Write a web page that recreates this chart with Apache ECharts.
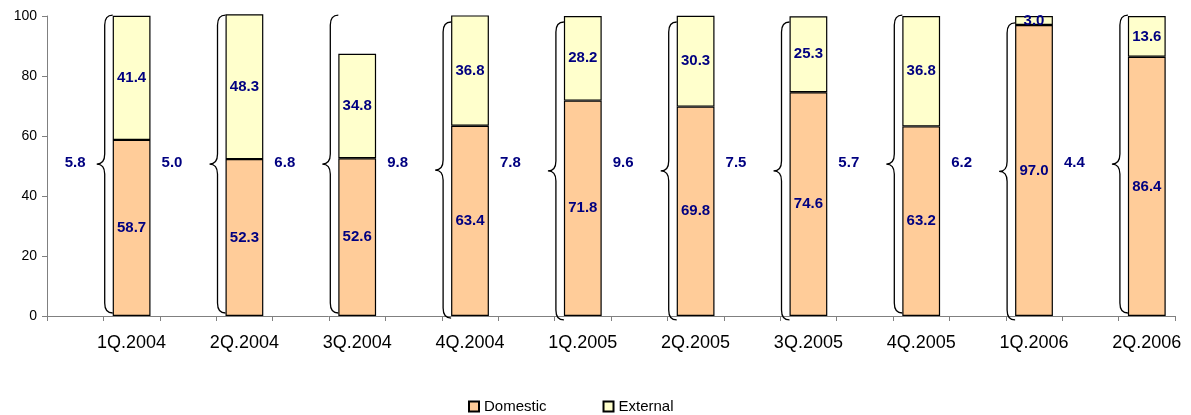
<!DOCTYPE html>
<html>
<head>
<meta charset="utf-8">
<script src="https://cdn.jsdelivr.net/npm/echarts@6/dist/echarts.min.js"></script>
<style>
  html, body { margin: 0; padding: 0; background: #fff; }
  #chart { width: 1191px; height: 415px; }
</style>
</head>
<body>
<div id="chart"></div>
<script>
// Quarterly split of growth contributions (shares, %)
const quarters = ['1Q.2004', '2Q.2004', '3Q.2004', '4Q.2004', '1Q.2005',
                  '2Q.2005', '3Q.2005', '4Q.2005', '1Q.2006', '2Q.2006'];
const domestic = [58.7, 52.3, 52.6, 63.4, 71.8, 69.8, 74.6, 63.2, 97.0, 86.4];
const external = [41.4, 48.3, 34.8, 36.8, 28.2, 30.3, 25.3, 36.8, 3.0, 13.6];
// overall growth rate written beside each bracket
const growth = [5.8, 5.0, 6.8, 9.8, 7.8, 9.6, 7.5, 5.7, 6.2, 4.4];
// vertical extent (axis values) of each curly bracket
const braceFrom = [1.0, 1.0, 1.0, -0.7, -1.3, -1.3, -1.3, 1.0, -1.3, 1.0];
const braceTo = [100.3, 100.3, 100.3, 98.0, 98.0, 98.0, 98.0, 100.3, 97.7, 100.3];
const yTicks = [0, 20, 40, 60, 80, 100];

const FONT = "'Liberation Sans', Arial, sans-serif";
const NAVY = '#000080';

// Each quarter takes two slots on the category axis: a gap slot holding the
// growth label and bracket, then the slot with the stacked bar.
const categories = [];
const domSlots = [];
const extSlots = [];
quarters.forEach((q, i) => {
  categories.push('');
  domSlots.push(null);
  extSlots.push(null);
  categories.push(q);
  domSlots.push(domestic[i]);
  extSlots.push(external[i]);
});
const braceData = quarters.map((q, i) => [2 * i + 1, braceFrom[i], braceTo[i]]);
const growthData = growth.map((g, i) => [2 * i, 51, g]);

const BAR_RATIO = 0.67;

const barLabel = {
  show: true,
  position: 'inside',
  color: NAVY,
  fontWeight: 'bold',
  fontSize: 15,
  fontFamily: FONT,
  textBorderWidth: 0,
  formatter: p => (p.value == null ? '' : Number(p.value).toFixed(1))
};

const chart = echarts.init(document.getElementById('chart'), null, { renderer: 'canvas' });
chart.setOption({
  animation: false,
  backgroundColor: '#fff',
  grid: { left: 47, right: 16, top: 16, bottom: 99, containLabel: false, outerBoundsMode: 'none' },
  legend: {
    data: ['Domestic', 'External'],
    left: 463,
    top: 394,
    icon: 'rect',
    itemWidth: 10,
    itemHeight: 10,
    itemGap: 56,
    textStyle: { fontSize: 15, fontFamily: FONT, color: '#000' }
  },
  xAxis: {
    type: 'category',
    data: categories,
    boundaryGap: true,
    axisLine: { show: true, lineStyle: { color: '#808080', width: 1 } },
    axisTick: { show: true, interval: 0, length: 5, lineStyle: { color: '#808080' } },
    axisLabel: { interval: 0, fontSize: 18, fontFamily: FONT, color: '#000', margin: 18 },
    splitLine: { show: false }
  },
  yAxis: {
    type: 'value',
    min: yTicks[0],
    max: yTicks[yTicks.length - 1],
    interval: yTicks[1] - yTicks[0],
    axisLine: { show: true, lineStyle: { color: '#808080', width: 1 } },
    axisTick: { show: true, length: 5, lineStyle: { color: '#808080' } },
    axisLabel: { fontSize: 14, fontFamily: FONT, color: '#000', margin: 10 },
    splitLine: { show: false }
  },
  series: [
    {
      name: 'Domestic',
      type: 'bar',
      stack: 'share',
      barWidth: (BAR_RATIO * 100) + '%',
      clip: false,
      data: domSlots,
      itemStyle: { color: '#FFCC99', borderColor: '#000', borderWidth: 1.2 },
      label: barLabel
    },
    {
      name: 'External',
      type: 'bar',
      stack: 'share',
      barWidth: (BAR_RATIO * 100) + '%',
      clip: false,
      data: extSlots,
      itemStyle: { color: '#FFFFCC', borderColor: '#000', borderWidth: 1.2 },
      label: barLabel
    },
    {
      // curly bracket on the left side of every bar
      type: 'custom',
      clip: false,
      encode: { x: 0, y: [1, 2] },
      data: braceData,
      renderItem: (params, api) => {
        const idx = api.value(0);
        const low = api.coord([idx, api.value(1)]);
        const high = api.coord([idx, api.value(2)]);
        const band = api.size([1, 0])[0];
        const xr = low[0] - band * BAR_RATIO / 2;
        const xb = xr - 8;
        const xt = xr - 16;
        const yT = high[1];
        const yB = low[1];
        const yM = (yT + yB) / 2;
        const r = 10;
        const d = `M${xr} ${yT} Q${xb} ${yT} ${xb} ${yT + r} L${xb} ${yM - r} ` +
                  `Q${xb} ${yM} ${xt} ${yM} Q${xb} ${yM} ${xb} ${yM + r} ` +
                  `L${xb} ${yB - r} Q${xb} ${yB} ${xr} ${yB}`;
        return {
          type: 'path',
          shape: { pathData: d },
          style: { fill: null, stroke: '#000', lineWidth: 1.3 }
        };
      },
      z: 3
    },
    {
      // growth figures next to the brackets
      type: 'custom',
      clip: false,
      encode: { x: 0, y: 1 },
      data: growthData,
      renderItem: (params, api) => {
        const p = api.coord([api.value(0), api.value(1)]);
        const shift = params.dataIndex === 0 ? 0 : -16;
        return {
          type: 'text',
          x: p[0] + shift,
          y: p[1],
          style: {
            text: Number(api.value(2)).toFixed(1),
            fill: NAVY,
            fontSize: 15,
            fontWeight: 'bold',
            fontFamily: FONT,
            align: 'center',
            verticalAlign: 'middle',
            textAlign: 'center',
            textVerticalAlign: 'middle'
          }
        };
      },
      z: 3
    }
  ]
});
</script>
</body>
</html>
